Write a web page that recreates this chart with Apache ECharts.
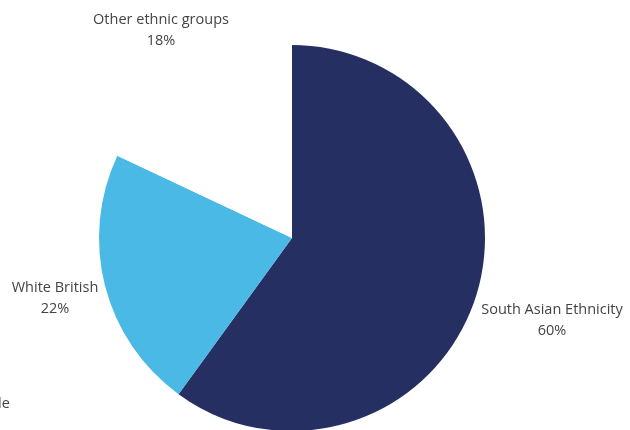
<!DOCTYPE html>
<html>
<head>
<meta charset="utf-8">
<script src="https://cdn.jsdelivr.net/npm/echarts@6/dist/echarts.min.js"></script>
<style>html,body{margin:0;padding:0;background:#fff}#c{width:630px;height:430px}</style>
</head>
<body>
<div id="c"></div>
<script>
const categories = ['South Asian Ethnicity', 'White British', 'Other ethnic groups'];
const values = [60, 22, 18];
const colors = ['#252f62', '#4ab9e5', '#ffffff'];
const labelSpots = [[552, 320], [55, 298], [161, 30]];

const chart = echarts.init(document.getElementById('c'));
chart.setOption({
  animation: false,
  backgroundColor: '#ffffff',
  textStyle: { fontFamily: 'Open Sans' },
  graphic: [{
    type: 'text', left: -2, top: 396,
    style: { text: 'le', fontFamily: 'Open Sans', fontSize: 14.5, fill: '#444444' }
  }],
  series: [{
    type: 'pie',
    center: [292, 238],
    radius: 193,
    startAngle: 90,
    clockwise: true,
    silent: true,
    data: categories.map((n, i) => ({ name: n, value: values[i], itemStyle: { color: colors[i] } })),
    label: {
      show: true,
      position: 'outside',
      formatter: p => p.name + '\n' + p.value + '%',
      fontFamily: 'Open Sans',
      fontSize: 14.5,
      lineHeight: 21,
      color: '#444444',
      align: 'center',
      overflow: 'none',
      width: 300
    },
    labelLine: { show: false },
    labelLayout: p => ({
      x: labelSpots[p.dataIndex][0],
      y: labelSpots[p.dataIndex][1],
      align: 'center',
      verticalAlign: 'middle'
    })
  }]
});
</script>
</body>
</html>
